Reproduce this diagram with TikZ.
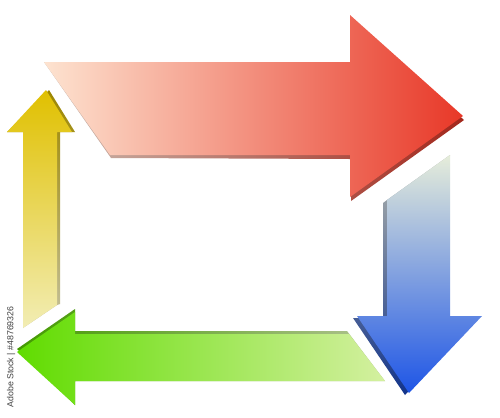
\documentclass[tikz,border=0pt]{standalone}
\usepackage{fontspec}
\setsansfont{Liberation Sans}
\usetikzlibrary{calc}

\definecolor{redlight}{HTML}{FDE3D0}
\definecolor{reddark}{HTML}{E83828}
\definecolor{bluelight}{HTML}{E6EDDA}
\definecolor{bluedark}{HTML}{1E55E6}
\definecolor{greenlight}{HTML}{D4F0A0}
\definecolor{greendark}{HTML}{60DC00}
\definecolor{yellowlight}{HTML}{F2EDB4}
\definecolor{yellowdark}{HTML}{E0C000}

\begin{document}
\begin{tikzpicture}[
    x=0.02cm, y=-0.02cm,
    redarrow/.style = {left color=redlight, right color=reddark},
    redshade/.style = {left color=redlight!60!gray, right color=reddark!70!black},
    bluearrow/.style = {top color=bluelight, bottom color=bluedark},
    blueshade/.style = {top color=bluelight!50!gray, bottom color=bluedark!60!black},
    greenarrow/.style = {left color=greendark, right color=greenlight},
    greenshade/.style = {left color=greendark!70!black, right color=greenlight!60!gray},
    yellowarrow/.style = {top color=yellowdark, bottom color=yellowlight},
    yellowshade/.style = {top color=yellowdark!70!black, bottom color=yellowlight!60!gray},
    stamp/.style = {font=\sffamily\fontsize{5}{6}\selectfont, text=black!75, rotate=90, inner sep=0pt}
    ]
    \useasboundingbox (0,0) rectangle (500,417);
    \fill[white] (0,0) rectangle (500,417);

    % top arrow, to the right
    \shade[redshade] (44,62) -- ++(306,0) -- ([shift={(1,4)}]350,15) -- ([shift={(1,4)}]463,116)
        -- ([shift={(1,4)}]350,197) -- ([shift={(1,4)}]350,155) -- ([shift={(1,3)}]110,155) -- cycle;
    \shade[redarrow] (44,62) -- (350,62) -- (350,15) -- (463,116) -- (350,197) -- (350,155) -- (110,155) -- cycle;

    % right arrow, down
    \shade[blueshade] (387,200) -- (450,155) -- ([shift={(-4,2)}]450,316) -- ([shift={(-4,2)}]482,316)
        -- ([shift={(-4,2)}]409,393) -- ([shift={(-4,2)}]357,316) -- ([shift={(-4,2)}]387,316) -- ([shift={(-4,0)}]387,203) -- cycle;
    \shade[bluearrow] (387,200) -- (450,155) -- (450,316) -- (482,316) -- (409,393) -- (357,316) -- (387,316) -- cycle;

    % bottom arrow, to the left
    \shade[greenshade] ([shift={(-2,-3)}]349,334) -- ([shift={(0,-3)}]75,334) -- ([shift={(0,-3)}]75,312) -- ([shift={(0,-3)}]17,352)
        -- (75,405) -- (75,381) -- (385,381) -- cycle;
    \shade[greenarrow] (349,334) -- (75,334) -- (75,312) -- (17,352) -- (75,405) -- (75,381) -- (385,381) -- cycle;

    % left arrow, up
    \shade[yellowshade] (23,328) -- (23,132) -- (7,132) -- ([shift={(3,0)}]46,90)
        -- ([shift={(3,0)}]72,132) -- ([shift={(3,0)}]57,132) -- ([shift={(3,0)}]57,304) -- (57,305) -- cycle;
    \shade[yellowarrow] (23,328) -- (23,132) -- (7,132) -- (46,90) -- (72,132) -- (57,132) -- (57,305) -- cycle;

    \node[stamp] (stamp) at (11,357) {Adobe Stock | \#48769326};
\end{tikzpicture}
\end{document}
